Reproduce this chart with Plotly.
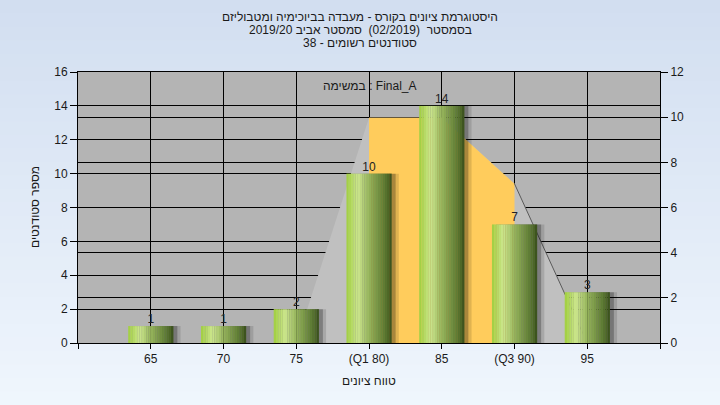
import plotly.graph_objects as go

# ---- data ----
grades = [65, 70, 75, 80, 85, 90, 95]
tick_labels = ["65", "70", "75", "(Q1 80)", "85", "(Q3 90)", "95"]
counts = [1, 1, 2, 10, 14, 7, 3]

# distribution outline (read against the left axis)
dist_x = [75, 80, 85, 90, 95]
dist_y = [0, 13.3, 13.3, 9.4, 0]
iqr_x = [80, 85, 90]
iqr_y = [13.3, 13.3, 9.4]
tail_x = [90, 95]
tail_y = [9.4, 0]

title_lines = [
    "היסטוגרמת ציונים בקורס - מעבדה בביוכימיה ומטבוליזם",
    "בסמסטר  (02/2019)  סמסטר אביב 2019/20",
    "סטודנטים רשומים - 38",
]
task_label = "במשימה : Final_A"
x_title = "טווח ציונים"
y_title = "מספר סטודנטים"

# ---- style ----
FONT = "Liberation Sans"
TXT = "#1a1a1a"
W, H = 720, 405
L, R, T, B = 78, 60, 72, 62
PW, PH = W - L - R, H - T - B


def py(Y):
    return (H - B - Y) / PH


def px(X):
    return (X - L) / PW


def lerp(c1, c2, t):
    return tuple(int(round(a + (b - a) * t)) for a, b in zip(c1, c2))


def grad(stops, t):
    for (t0, c0), (t1, c1) in zip(stops, stops[1:]):
        if t0 <= t <= t1:
            return lerp(c0, c1, (t - t0) / (t1 - t0) if t1 > t0 else 0)
    return stops[-1][1]


bar_stops = [
    (0.0, (160, 206, 62)),
    (0.25, (204, 230, 142)),
    (0.5, (150, 180, 92)),
    (0.8, (100, 130, 56)),
    (0.95, (72, 98, 36)),
    (1.0, (50, 70, 25)),
]

fig = go.Figure()

# area shapes (bottom subplot)
fig.add_trace(go.Scatter(x=dist_x, y=dist_y, mode="lines", fill="tozeroy",
                         fillcolor="#c0c0c0", line=dict(width=0, color="#c0c0c0"),
                         hoverinfo="skip", showlegend=False))
fig.add_trace(go.Scatter(x=iqr_x, y=iqr_y, mode="lines", fill="tozeroy",
                         fillcolor="#ffcc5c", line=dict(width=0, color="#ffcc5c"),
                         hoverinfo="skip", showlegend=False))
fig.add_trace(go.Scatter(x=tail_x, y=tail_y, mode="lines",
                         line=dict(width=1, color="#5a5a5a"),
                         hoverinfo="skip", showlegend=False))

# dummy for right axis
fig.add_trace(go.Scatter(x=[None], y=[None], yaxis="y2", showlegend=False, hoverinfo="skip"))

BW = 3.1
# shadows (top overlay subplot y3)
for shift, alpha in [(0.5, 0.12), (0.28, 0.25)]:
    fig.add_trace(go.Bar(x=grades, y=counts, width=BW, offset=-BW / 2 + shift, yaxis="y3",
                         marker=dict(color=f"rgba(0,0,0,{alpha})", line=dict(width=0)),
                         hoverinfo="skip", showlegend=False))

# gradient bar slices
N = 20
sw = BW / N
for i in range(N):
    c = grad(bar_stops, (i + 0.5) / N)
    fig.add_trace(go.Bar(x=grades, y=counts, width=sw * 1.05, offset=-BW / 2 + i * sw,
                         yaxis="y3",
                         marker=dict(color=f"rgb{c}", line=dict(width=0)),
                         hoverinfo="skip", showlegend=False))

# labels
fig.add_trace(go.Scatter(x=grades, y=counts, mode="text", text=[str(v) for v in counts],
                         textposition="top center", yaxis="y3",
                         textfont=dict(family=FONT, size=12, color="#222"),
                         hoverinfo="skip", showlegend=False))

shapes = []
top_c, bot_c = (210, 222, 240), (239, 246, 253)
n_strips = 30
for i in range(n_strips):
    y0 = i * H / n_strips
    y1 = (i + 1) * H / n_strips + 1
    c = lerp(top_c, bot_c, (i + 0.5) / n_strips)
    shapes.append(dict(type="rect", xref="paper", yref="paper",
                       x0=px(-10), x1=px(W + 10), y0=py(y1), y1=py(y0),
                       fillcolor=f"rgb{c}", line=dict(width=0), layer="below"))
shapes.append(dict(type="rect", xref="x domain", yref="y domain", x0=0, x1=1, y0=0, y1=1,
                   fillcolor="#b4b4b4", line=dict(width=0), layer="below"))

annotations = []
for Y, txt in zip([17, 30, 43], title_lines):
    annotations.append(dict(text=txt, xref="paper", yref="paper", x=px(360), y=py(Y),
                            xanchor="center", yanchor="middle", showarrow=False,
                            font=dict(family=FONT, size=12, color=TXT)))
annotations.append(dict(text=task_label, xref="paper", yref="paper", x=px(370), y=py(86),
                        xanchor="center", yanchor="middle", showarrow=False,
                        font=dict(family=FONT, size=12, color=TXT)))
annotations.append(dict(text=x_title, xref="paper", yref="paper", x=px(369), y=py(381),
                        xanchor="center", yanchor="middle", showarrow=False,
                        font=dict(family=FONT, size=12, color=TXT)))
annotations.append(dict(text=y_title, xref="paper", yref="paper", x=px(35), y=py(207),
                        xanchor="center", yanchor="middle", showarrow=False, textangle=-90,
                        font=dict(family=FONT, size=12, color=TXT)))

axis_common = dict(showgrid=True, gridcolor="black", gridwidth=1, zeroline=False,
                   showline=True, linecolor="black", linewidth=1,
                   ticks="outside", tickcolor="black", tickwidth=1,
                   tickfont=dict(family=FONT, size=12, color=TXT))

fig.update_layout(
    width=W, height=H,
    margin=dict(l=L, r=R, t=T, b=B, pad=0),
    paper_bgcolor="#e2ebf7",
    plot_bgcolor="#b4b4b4",
    barmode="overlay",
    showlegend=False,
    shapes=shapes,
    annotations=annotations,
    xaxis=dict(range=[60, 100], tickmode="array",
               tickvals=[60] + grades + [100], ticktext=[""] + tick_labels + [""],
               ticklen=5, mirror=True, **axis_common),
    yaxis=dict(range=[0, 16], tickmode="array", tickvals=list(range(0, 17, 2)),
               ticklen=7, **axis_common),
    yaxis2=dict(range=[0, 12], tickmode="array", tickvals=list(range(0, 13, 2)),
                overlaying="y", side="right", anchor="x",
                ticklen=7, **axis_common),
    yaxis3=dict(range=[0, 16], overlaying="y", anchor="x", visible=False,
                showgrid=False, zeroline=False),
)

fig.write_html("out.html", config={"displayModeBar": False},
               post_script="document.body.style.margin='0';document.body.style.overflow='hidden';")
